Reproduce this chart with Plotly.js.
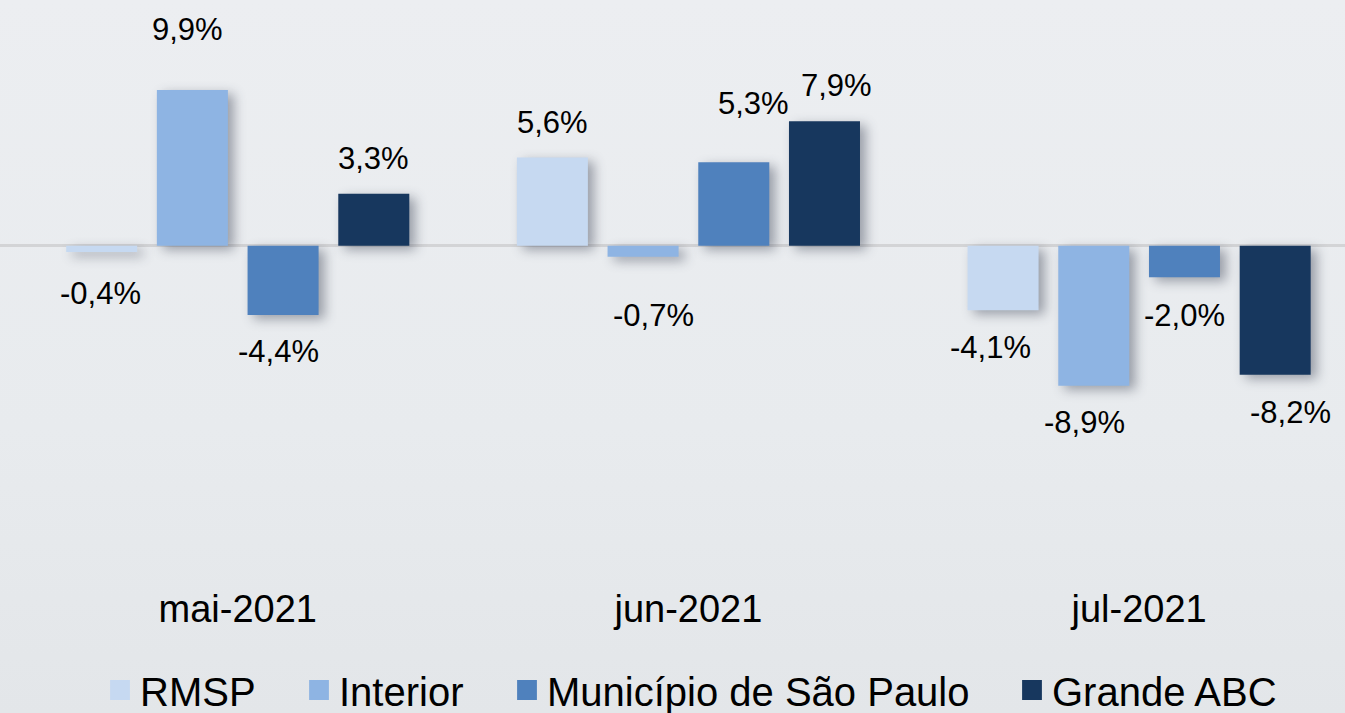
<!DOCTYPE html>
<html>
<head>
<meta charset="utf-8">
<script src="https://cdn.plot.ly/plotly-3.0.1.min.js"></script>
<style>
  html, body { margin: 0; padding: 0; }
  body { width: 1345px; height: 713px; background: linear-gradient(180deg, #eceef1 0%, #e8ebee 60%, #e3e6e9 100%); }
  #chart { width: 1345px; height: 713px; }
  .barlayer .point path { filter: drop-shadow(6px 4px 6px rgba(20,30,50,0.38)); }
  .legendpoints path { transform: translate(20px, 0px) scale(1.65); }
</style>
</head>
<body>
<div id="chart"></div>
<script>
// ---- data ----
const categories = ['mai-2021', 'jun-2021', 'jul-2021'];
const seriesNames = ['RMSP', 'Interior', 'Município de São Paulo', 'Grande ABC'];
const rmsp = [-0.4, 5.6, -4.1];
const interior = [9.9, -0.7, -8.9];
const municipio = [-4.4, 5.3, -2.0];
const grandeABC = [3.3, 7.9, -8.2];

// ---- style ----
const colors = ['#c6d9f1', '#8eb4e3', '#4f81bd', '#17375e'];
const labelDist = [[41, 35, 37], [60, 59, 37], [37, 59, 38], [35, 36, 38]]; // px from bar end
const labelDx = [[-1, 0, -13], [-5, 10, -9], [-5, 20, 0], [0, 12, 15]];
const legendLeftPx = [100, 299, 507, 1012];
const FONT = '"Liberation Sans", Arial, sans-serif';
const BARGAP = 0.195;
const W = 1345, H = 713, B = 138;

const allSeries = [rmsp, interior, municipio, grandeABC];
const fmt = v => v.toFixed(1).replace('.', ',') + '%';
const legendKeys = ['legend', 'legend2', 'legend3', 'legend4'];

const traces = allSeries.map((vals, i) => ({
  type: 'bar',
  name: seriesNames[i],
  x: categories,
  y: vals,
  legend: legendKeys[i],
  marker: { color: colors[i], line: { width: 0 } },
  hoverinfo: 'skip'
}));

const slot = (1 - BARGAP) / allSeries.length;
const annotations = [];
allSeries.forEach((vals, i) => {
  vals.forEach((v, j) => {
    annotations.push({
      x: j + (i - (allSeries.length - 1) / 2) * slot,
      y: v,
      xref: 'x', yref: 'y',
      text: fmt(v),
      showarrow: false,
      xanchor: 'center', yanchor: 'middle',
      xshift: labelDx[i][j],
      yshift: v >= 0 ? labelDist[i][j] : -labelDist[i][j],
      font: { family: FONT, size: 31, color: '#000000' }
    });
  });
});

const plotH = H - B;
const layout = {
  width: W, height: H,
  margin: { l: 0, r: 0, t: 0, b: B, autoexpand: false },
  paper_bgcolor: 'rgba(0,0,0,0)',
  plot_bgcolor: 'rgba(0,0,0,0)',
  barmode: 'group',
  bargap: BARGAP,
  bargroupgap: 0.217,
  showlegend: true,
  xaxis: {
    type: 'category',
    range: [-0.5275, 2.4568],
    showgrid: false, zeroline: false, showline: false, ticks: '',
    tickfont: { family: FONT, size: 38, color: '#000000' },
    ticklabelstandoff: 8,
    fixedrange: true
  },
  yaxis: {
    range: [-20.92, 15.61],
    showgrid: false, showticklabels: false, ticks: '',
    zeroline: true, zerolinecolor: '#d3d4d6', zerolinewidth: 3,
    fixedrange: true
  },
  annotations: annotations,
  font: { family: FONT }
};
legendKeys.forEach((k, i) => {
  layout[k] = {
    orientation: 'h', x: legendLeftPx[i] / W, xanchor: 'left',
    y: (plotH - 690) / plotH, yanchor: 'middle',
    font: { family: FONT, size: 40, color: '#000000' },
    bgcolor: 'rgba(0,0,0,0)', borderwidth: 0
  };
});

Plotly.newPlot('chart', traces, layout, { displayModeBar: false, staticPlot: true });
</script>
</body>
</html>
